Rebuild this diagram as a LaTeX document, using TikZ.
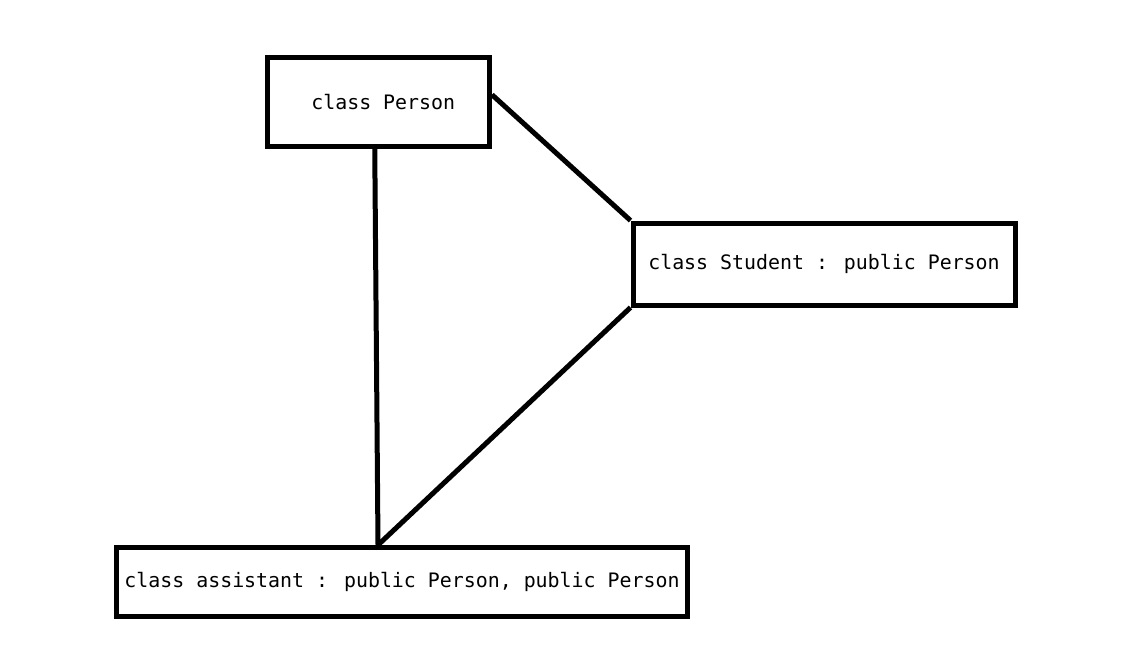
\documentclass[tikz,border=0pt]{standalone}
\usepackage{fontspec}
\newfontfamily\boxfont{DejaVu Sans Mono}
\begin{document}
\begin{tikzpicture}[x=1pt,y=-1pt,
  classbox/.style={draw=black, line width=5pt, fill=white, inner sep=0pt,
    font=\boxfont\fontsize{19.9}{24}\selectfont, text=black},
  link/.style={draw=black, line width=5pt}]
\useasboundingbox[fill=white] (0,0) rectangle (1121,653);
\node[classbox, minimum width=222.5pt, minimum height=88.5pt] (person) at (378.25,101.75) {\hspace*{10pt}class Person};
\node[classbox, minimum width=382pt, minimum height=82pt] (student) at (824,264) {class Student : public Person};
\node[classbox, minimum width=571pt, minimum height=69pt] (assist) at (402,582) {class assistant : public Person, public Person};
\draw[link] ([xshift=-3.5pt]person.south) -- ([xshift=-24pt]assist.north);
\draw[link] ([yshift=7pt]person.east) -- (student.north west);
\draw[link] (student.south west) -- ([xshift=-24pt]assist.north);
\end{tikzpicture}
\end{document}
